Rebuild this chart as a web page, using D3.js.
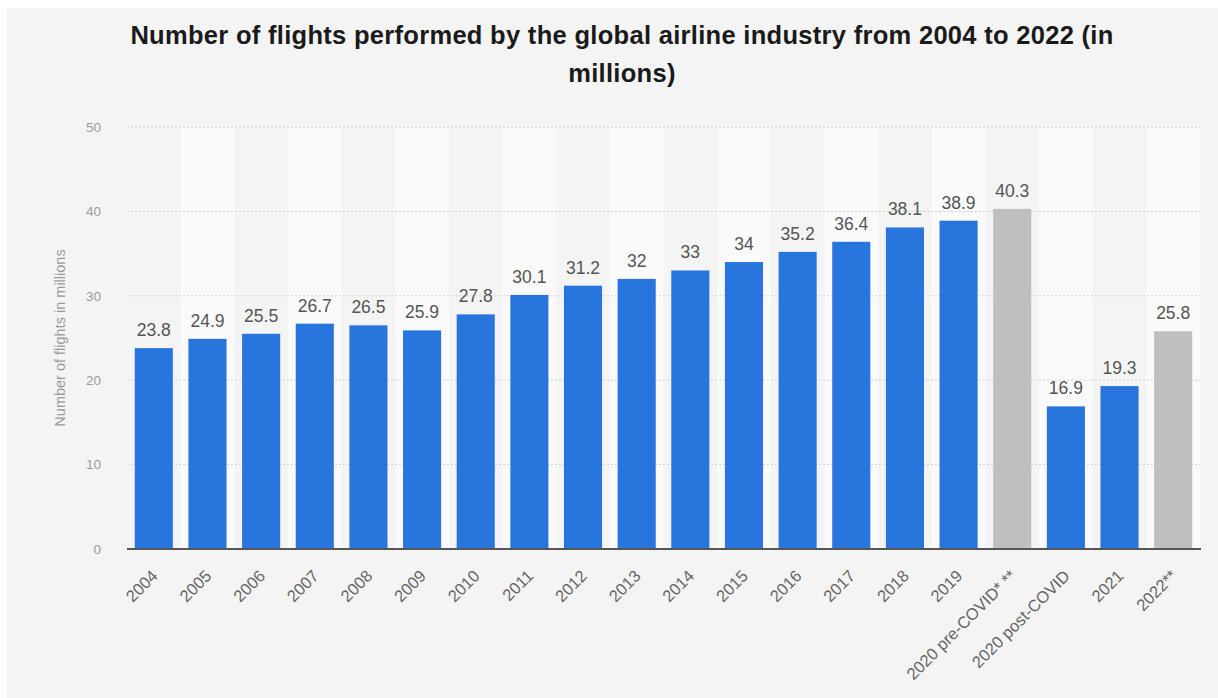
<!DOCTYPE html>
<html>
<head>
<meta charset="utf-8">
<script src="https://cdn.jsdelivr.net/npm/d3@7/dist/d3.min.js"></script>
<style>
  html, body { margin: 0; padding: 0; background: #ffffff; }
  svg { display: block; font-family: "Liberation Sans", Arial, Helvetica, sans-serif; }
</style>
</head>
<body>
<svg id="chart" width="1218" height="698"></svg>
<script>
// Flights performed by the global airline industry, in millions
const categories = ["2004", "2005", "2006", "2007", "2008", "2009", "2010", "2011",
  "2012", "2013", "2014", "2015", "2016", "2017", "2018", "2019",
  "2020 pre-COVID* **", "2020 post-COVID", "2021", "2022**"];
const flights = [23.8, 24.9, 25.5, 26.7, 26.5, 25.9, 27.8, 30.1, 31.2, 32, 33, 34,
  35.2, 36.4, 38.1, 38.9, 40.3, 16.9, 19.3, 25.8];
// forecast / estimate columns are drawn in grey
const estimated = ["2020 pre-COVID* **", "2022**"];
const yTicks = [0, 10, 20, 30, 40, 50];
const titleLines = ["Number of flights performed by the global airline industry from 2004 to 2022 (in", "millions)"];
const yAxisTitle = "Number of flights in millions";

const W = 1218, H = 698;
const margin = { left: 127, right: 18, top: 127, bottom: 149 };
const svg = d3.select("#chart");

// panel background
svg.append("rect").attr("x", 7).attr("y", 8).attr("width", W - 7).attr("height", H - 8)
  .attr("fill", "#f4f4f4");

const x = d3.scaleBand().domain(categories)
  .range([margin.left, W - margin.right]).paddingInner(0.29).paddingOuter(0.145);
const y = d3.scaleLinear().domain([0, 50]).range([H - margin.bottom, margin.top]);

// alternating column stripes
const step = x.step();
svg.append("g").selectAll("rect").data(categories.filter((d, i) => i % 2 === 1))
  .join("rect")
  .attr("x", d => x(d) - (step - x.bandwidth()) / 2)
  .attr("y", y(50))
  .attr("width", step)
  .attr("height", y(0) - y(50))
  .attr("fill", "#fafafa");

// gridlines
svg.append("g").selectAll("line").data(yTicks.filter(t => t > 0)).join("line")
  .attr("x1", margin.left).attr("x2", W - margin.right)
  .attr("y1", d => y(d)).attr("y2", d => y(d))
  .attr("stroke", "#cfcfcf").attr("stroke-width", 1).attr("stroke-dasharray", "2,2");

// y tick labels
svg.append("g").selectAll("text").data(yTicks).join("text")
  .attr("x", 101).attr("y", d => y(d))
  .attr("dy", "0.35em").attr("text-anchor", "end")
  .attr("fill", "#9a9a9a").attr("font-size", 13.5)
  .text(d => d);

// y axis title
svg.append("text")
  .attr("transform", `translate(65,${(y(0) + y(50)) / 2}) rotate(-90)`)
  .attr("text-anchor", "middle").attr("fill", "#9a9a9a").attr("font-size", 14.5)
  .text(yAxisTitle);

// bars
svg.append("g").selectAll("rect").data(categories).join("rect")
  .attr("x", d => x(d))
  .attr("y", (d, i) => y(flights[i]))
  .attr("width", x.bandwidth())
  .attr("height", (d, i) => y(0) - y(flights[i]))
  .attr("fill", d => estimated.includes(d) ? "#bfbfbf" : "#2876dd");

// value labels
svg.append("g").selectAll("text").data(categories).join("text")
  .attr("x", d => x(d) + x.bandwidth() / 2)
  .attr("y", (d, i) => y(flights[i]) - 12)
  .attr("text-anchor", "middle").attr("fill", "#555555").attr("font-size", 17.5)
  .text((d, i) => flights[i]);

// baseline
svg.append("line")
  .attr("x1", margin.left).attr("x2", W - margin.right + 1)
  .attr("y1", y(0)).attr("y2", y(0))
  .attr("stroke", "#555555").attr("stroke-width", 2);

// x labels, rotated
svg.append("g").selectAll("text").data(categories).join("text")
  .attr("transform", d => `translate(${x(d) + x.bandwidth() / 2 + 5},${y(0) + 28}) rotate(-45)`)
  .attr("text-anchor", "end").attr("fill", "#666666").attr("font-size", 16.5)
  .text(d => d);

// title
svg.append("g").selectAll("text").data(titleLines).join("text")
  .attr("x", 622).attr("y", (d, i) => 44 + i * 38)
  .attr("text-anchor", "middle").attr("font-weight", "bold")
  .attr("fill", "#1a1a1a").attr("font-size", 25.5).attr("letter-spacing", 0.3)
  .text(d => d);
</script>
</body>
</html>
